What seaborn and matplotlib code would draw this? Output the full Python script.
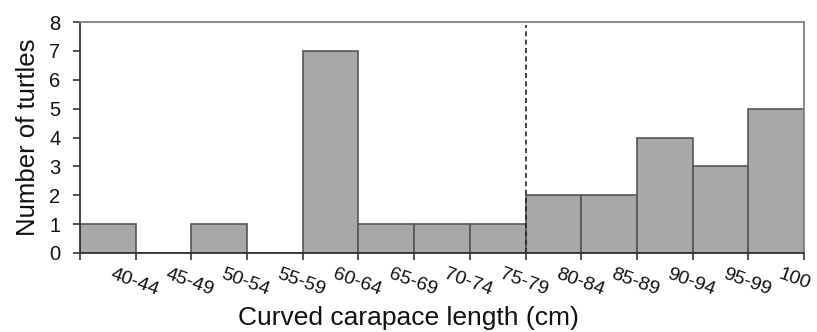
import matplotlib
matplotlib.use("Agg")
import matplotlib.pyplot as plt
import seaborn as sns
import pandas as pd

categories = ["40-44", "45-49", "50-54", "55-59", "60-64", "65-69", "70-74",
              "75-79", "80-84", "85-89", "90-94", "95-99", "100"]
counts = [1, 0, 1, 0, 7, 1, 1, 1, 2, 2, 4, 3, 5]
y_ticks = [0, 1, 2, 3, 4, 5, 6, 7, 8]
divider_after = "75-79"

sns.set_theme(style="white")
plt.rcParams['font.family'] = ['Liberation Sans', 'DejaVu Sans']

df = pd.DataFrame({"size": categories, "n": counts})

fig = plt.figure(figsize=(8.17, 3.32), dpi=100)
ax = fig.add_axes([80/817, 1 - 253/332, (804-80)/817, (253-22)/332])

sns.barplot(data=df, x="size", y="n", order=categories, ax=ax, width=1.0,
            color="#a8a8a8", saturation=1, edgecolor="#555555", linewidth=1.2)

n = len(categories)
ax.set_xlim(-0.5, n - 0.5)
ax.set_ylim(0, 8)
ax.set_yticks(y_ticks)
ax.set_yticklabels([str(v) for v in y_ticks], fontsize=14.5, color="#111111")

# labels: left edge at bar centres, slanted; tick marks at bar boundaries
ax.set_xticks(list(range(n)))
ax.set_xticklabels(categories, fontsize=14, rotation=-20, ha="left", color="#111111")
ax.set_xticks([i - 0.5 for i in range(n + 1)], minor=True)
ax.tick_params(axis="x", which="major", length=0, pad=9)
ax.tick_params(axis="x", which="minor", direction="out", length=5, width=1.2,
               color="#333333", bottom=True)
ax.tick_params(axis="y", which="major", direction="out", length=5, width=1.2,
               color="#333333", left=True, pad=9)

for side in ["left", "bottom"]:
    ax.spines[side].set_color("#333333")
    ax.spines[side].set_linewidth(1.3)
for side in ["top", "right"]:
    ax.spines[side].set_color("#808080")
    ax.spines[side].set_linewidth(1.3)

xdiv = categories.index(divider_after) + 0.5
ax.plot([xdiv, xdiv], [0, 7.9], color="#222222", linestyle=(0, (3, 2)), linewidth=1.2)

ax.set_xlabel("")
fig.text(0.5, 1 - 318/332, "Curved carapace length (cm)", fontsize=19,
         ha="center", va="center", color="#111111")
ax.set_ylabel("Number of turtles", fontsize=18.5, labelpad=7, color="#111111")

fig.savefig("out.png", dpi=100)
